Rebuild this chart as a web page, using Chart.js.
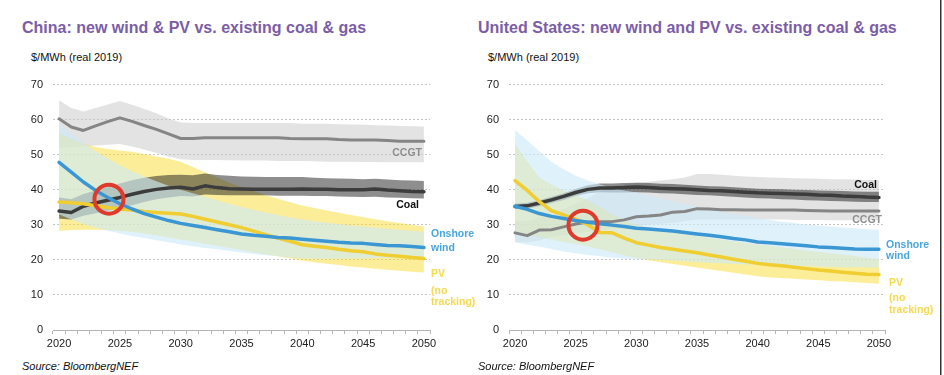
<!DOCTYPE html>
<html>
<head>
<meta charset="utf-8">
<script src="https://cdn.jsdelivr.net/npm/chart.js@4.4.0/dist/chart.umd.min.js"></script>
<style>
  html, body { margin: 0; padding: 0; background: #fff; }
  body { width: 944px; height: 375px; position: relative; overflow: hidden; font-family: "Liberation Sans", Arial, sans-serif; }
  .title { position: absolute; top: 19px; font-weight: bold; font-size: 16px; color: #7b5da8; white-space: nowrap; }
  .unit { position: absolute; top: 51px; font-size: 11px; color: #111; white-space: nowrap; }
  .source { position: absolute; top: 360px; font-size: 11px; font-style: italic; color: #111; white-space: nowrap; }
  canvas { position: absolute; top: 66px; }
  #edge { position: absolute; left: 940px; top: 0; width: 1px; height: 375px; background: #333; border-right: 1px solid #999; }
</style>
</head>
<body>
<div class="title" style="left:22px">China: new wind &amp; PV vs. existing coal &amp; gas</div>
<div class="title" style="left:478px">United States: new wind and PV vs. existing coal &amp; gas</div>
<div class="unit" style="left:31px">$/MWh (real 2019)</div>
<div class="unit" style="left:488px">$/MWh (real 2019)</div>
<canvas id="chartChina" width="480" height="290" style="left:0px"></canvas>
<canvas id="chartUS" width="474" height="290" style="left:470px"></canvas>
<div class="source" style="left:22px">Source: BloombergNEF</div>
<div class="source" style="left:478px">Source: BloombergNEF</div>
<div id="edge"></div>
<script>
const years = [2020,2021,2022,2023,2024,2025,2026,2027,2028,2029,2030,2031,2032,2033,2034,2035,
               2036,2037,2038,2039,2040,2041,2042,2043,2044,2045,2046,2047,2048,2049,2050];
const yTicks = [0, 10, 20, 30, 40, 50, 60, 70];

// China
const cnCcgt   = [60.2,57.9,56.9,58.2,59.4,60.5,59.5,58.3,57.2,55.9,54.6,54.6,54.8,54.8,54.8,54.8,54.8,54.8,54.8,54.6,54.5,54.5,54.5,54.3,54.2,54.2,54.2,54.0,53.8,53.8,53.8];
const cnCcgtHi = [65.5,63.3,62.3,63.3,64.3,65.3,64.2,63,61.8,60.3,59.2,59,59,59,59,59,59,59,59,59,58.8,58.8,58.8,58.7,58.6,58.5,58.4,58.3,58.2,58.1,58];
const cnCcgtLo = [52,52.2,52.4,52.6,52.8,53,52.3,51.5,50.5,49.5,48.7,48.5,48.5,48.5,48.4,48.3,48.3,48.3,48.2,48.2,48.2,48.1,48,48,48,47.9,47.9,47.8,47.8,47.8,47.8];
const cnCoal   = [33.9,33.5,35.3,36.2,37,37.8,38.7,39.5,40.1,40.5,40.7,40.2,41.1,40.6,40.3,40.2,40.1,40.1,40.1,40.1,40.2,40.1,40.1,40,40,40,40.2,39.9,39.7,39.5,39.4];
const cnCoalHi = [37.8,37.3,38.8,39.8,40.8,41.8,42.7,43.4,43.9,44.2,44.3,44.1,44.6,44.2,44,43.8,43.7,43.6,43.6,43.6,43.6,43.4,43.3,43.2,43.1,43,43.1,42.9,42.7,42.6,42.5];
const cnCoalLo = [31.7,31.5,32.6,33.3,34,34.6,35.6,36.5,37.3,37.8,38.2,38.1,38.6,38.5,38.4,38.4,38.4,38.4,38.3,38.3,38.3,38.2,38.2,38.1,38,37.9,38,37.8,37.7,37.6,37.5];
const cnWind   = [47.8,45,42.2,39.8,37.8,36,34.5,33.2,32.2,31.2,30.4,29.8,29.2,28.6,28,27.4,27,26.7,26.4,26.2,25.9,25.6,25.3,25,24.8,24.7,24.4,24.1,24,23.8,23.5];
const cnWindHi = [59,56,53.5,51,49,47,45.3,43.8,42.4,41.1,40,39,38,37,36,35.1,34.3,33.5,32.8,32.1,31.5,31,30.6,30.2,29.8,29.5,29.2,28.9,28.6,28.3,28];
const cnWindLo = [33,31.5,30.2,29.2,28.3,27.5,26.8,26.2,25.6,25,24.4,23.9,23.4,23,22.5,22.1,21.7,21.3,21,20.7,20.4,20.3,20.3,20.3,20.4,20.4,20.5,20.5,20.6,20.7,20.8];
const cnPv     = [36.5,36.3,36,35.4,34.9,34.5,34.2,33.8,33.5,33.3,33.1,32.4,31.6,30.8,30,29.2,28.2,27.2,26.2,25.3,24.3,23.9,23.5,23,22.6,22.3,21.7,21.3,21,20.7,20.4];
const cnPvHi   = [56,54.5,53.2,52.2,51.6,51.2,50.8,50.2,49.5,48.8,48,46.5,45,43.5,42,40.8,39.6,38.5,37.4,36.4,35.5,34.8,34.1,33.4,32.8,32.2,31.6,31,30.5,30,29.5];
const cnPvLo   = [28.2,28.5,28.6,28.6,28.5,28.3,28,27.5,27,26.4,25.8,25.2,24.6,24,23.4,22.8,22.2,21.6,21,20.4,19.8,19.3,18.9,18.5,18.1,17.8,17.5,17.2,16.9,16.6,16.4];
const cnCircle = [{ x: 2024.1, y: 37.3 }];

// United States
const usCoal   = [35.2,35.4,36.2,37.1,38.1,39.2,40.1,40.5,40.5,40.6,40.8,40.6,40.4,40.3,40.2,40,39.8,39.7,39.5,39.3,39.1,39,38.9,38.8,38.7,38.5,38.4,38.2,38.1,37.9,37.8];
const usCoalHi = [36,36.3,37,38,39,40.2,41.3,41.8,41.8,41.9,42,41.9,41.7,41.6,41.4,41.2,41,40.9,40.7,40.5,40.3,40.2,40.1,40,39.9,39.8,39.7,39.6,39.5,39.4,39.4];
const usCoalLo = [34.5,34.6,35.3,36.2,37.1,38.2,39,39.3,39.2,39.2,39.3,39.2,39,38.9,38.7,38.5,38.4,38.2,38,37.8,37.6,37.5,37.3,37.2,37,36.9,36.8,36.7,36.6,36.5,36.5];
const usCcgt   = [27.7,26.9,28.5,28.6,29.4,30.2,30.8,30.9,30.9,31.4,32.3,32.5,32.8,33.6,33.8,34.6,34.5,34.3,34.3,34.2,34.2,34.2,34.2,34.2,34.1,34,33.9,33.9,33.9,33.9,33.9];
const usCcgtHi = [31,31,32,33,34.5,36,37.5,39.5,41,41.5,42,42.3,42.6,43,43.5,44.5,44.5,44.3,44,43.8,43.6,43.5,43.4,43.3,43.2,43.1,43,43,42.9,42.8,42.8];
const usCcgtLo = [25,25,25.5,26.5,27,27.5,28,28.5,28.8,29,29.5,30,30.3,30.5,31,31.5,31.5,31.5,31.5,31.5,31.5,31.5,31.5,31.4,31.4,31.4,31.3,31.3,31.3,31.3,31.3];
const usWind   = [35.3,34.4,33.2,32.4,31.8,31.2,30.7,30.3,29.9,29.5,29,28.8,28.5,28.2,27.8,27.4,27,26.6,26.1,25.7,25.1,24.9,24.6,24.3,24,23.7,23.5,23.3,23.1,23,23];
const usWindHi = [57,54,51,48,45.8,44,42.6,41.5,40.5,39.8,39.2,38.4,37.6,36.8,36,35.2,34.5,33.8,33.1,32.5,31.9,31.4,30.9,30.5,30.1,29.8,29.5,29.2,29,28.7,28.5];
const usWindLo = [25,24.3,23.8,23.1,22.4,21.9,21.4,21,20.6,20.3,20.2,20.1,20,19.8,19.6,19.4,19.2,19,18.8,18.7,18.6,18.5,18.4,18.3,18.2,18.1,18,17.9,17.9,17.8,17.8];
const usPv     = [42.6,39.8,36.6,34,32.8,31.6,30,27.8,27.7,26.2,24.9,24.2,23.5,23,22.5,22,21.4,20.8,20.2,19.6,19,18.6,18.3,17.9,17.5,17.1,16.8,16.5,16.2,15.9,15.8];
const usPvHi   = [53.2,48,43.5,41.5,39.8,38.5,37,35,33,31.3,30,29.2,28.5,27.9,27.3,26.8,26.3,25.8,25.3,24.8,24.4,24,23.6,23.2,22.7,22.3,21.9,21.5,21.1,20.6,20.2];
const usPvLo   = [28,27.3,26.5,25.8,25.1,24.5,23.8,23,22.2,21.3,20.5,19.9,19.3,18.8,18.3,17.8,17.3,16.8,16.3,15.8,15.3,15,14.8,14.6,14.4,14.2,14,13.8,13.6,13.4,13.2];
const usCircle = [{ x: 2025.6, y: 29.9 }];

const FONT = '"Liberation Sans", Arial, sans-serif';
Chart.defaults.font.family = FONT;

const BLUE = "#3a97d4", YELLOW = "#f0cd30", COAL = "#3c3c3c", GRAY = "#858585";
const LABEL_BLUE = "#4aa6de", LABEL_YELLOW = "#f5d94e", LABEL_GRAY = "#8e8e8e";
const CLEAR = "rgba(0,0,0,0)";

// text next to the line ends
const endLabels = {
    id: "endLabels",
    afterDatasetsDraw(chart, args, opts) {
        const { ctx, chartArea, scales } = chart;
        ctx.save();
        ctx.font = "bold 10.5px " + FONT;
        ctx.textBaseline = "middle";
        (opts.items || []).forEach(it => {
            ctx.fillStyle = it.color;
            ctx.textAlign = it.align;
            ctx.fillText(it.text, chartArea.right + it.dx, scales.y.getPixelForValue(it.v));
        });
        ctx.restore();
    }
};

function band(hi, lo, color, order) {
    return [
        { data: hi, fill: "+1", backgroundColor: color, borderColor: CLEAR, borderWidth: 0, pointRadius: 0, order },
        { data: lo, fill: false, borderColor: CLEAR, borderWidth: 0, pointRadius: 0, order }
    ];
}

function line(data, color, width, order) {
    return { data, borderColor: color, borderWidth: width, pointRadius: 0, fill: false, tension: 0,
             borderJoinStyle: "round", borderCapStyle: "round", order };
}

function drawPanel(canvasId, s, yWidth, padRight, labels) {
    return new Chart(document.getElementById(canvasId), {
        type: "line",
        data: {
            labels: years,
            datasets: [
                ...band(s.ccgtHi, s.ccgtLo, "rgba(200,200,200,0.5)", 20),
                ...band(s.pvHi, s.pvLo, "rgba(250,222,52,0.5)", 18),
                ...band(s.coalHi, s.coalLo, "rgba(30,30,30,0.5)", 17),
                ...band(s.windHi, s.windLo, "rgba(205,233,247,0.64)", 16),
                line(s.ccgt, GRAY, 3, 5),
                line(s.coal, COAL, 3.5, 4),
                line(s.pv, YELLOW, 3.5, 3),
                line(s.wind, BLUE, 3.5, 2),
                {
                    data: s.circle, xAxisID: "xc", showLine: false, order: 0,
                    pointRadius: 14.5, pointBorderWidth: 4, pointBorderColor: "#df3b2c",
                    pointBackgroundColor: CLEAR
                }
            ]
        },
        options: {
            responsive: false,
            animation: false,
            devicePixelRatio: 1,
            layout: { padding: { top: 14, left: 0, right: padRight, bottom: 0 } },
            plugins: {
                legend: { display: false },
                tooltip: { enabled: false },
                endLabels: { items: labels }
            },
            scales: {
                x: {
                    type: "category",
                    offset: true,
                    grid: { offset: true, drawOnChartArea: false, drawTicks: true, tickLength: 4, color: "#b5b5b5" },
                    border: { display: true, color: "#b5b5b5", width: 1 },
                    ticks: {
                        autoSkip: false, maxRotation: 0, minRotation: 0, padding: 3,
                        color: "#222", font: { size: 11 },
                        callback: (v, i) => (years[i] % 5 === 0 ? String(years[i]) : "")
                    },
                    afterFit: scale => { scale.height = 26; }
                },
                xc: { type: "linear", display: false, min: 2019.5, max: 2050.5 },
                y: {
                    min: yTicks[0],
                    max: yTicks[yTicks.length - 1],
                    afterBuildTicks: scale => { scale.ticks = yTicks.map(v => ({ value: v })); },
                    grid: {
                        drawTicks: false,
                        lineWidth: 1,
                        color: c => (c.tick && c.tick.value === 0 ? CLEAR : "#c4c4c4")
                    },
                    border: { display: false, dash: [2, 2] },
                    ticks: { padding: 10, color: "#222", font: { size: 11 } },
                    afterFit: scale => { scale.width = yWidth; }
                }
            }
        },
        plugins: [endLabels]
    });
}

drawPanel("chartChina", {
    ccgt: cnCcgt, ccgtHi: cnCcgtHi, ccgtLo: cnCcgtLo,
    coal: cnCoal, coalHi: cnCoalHi, coalLo: cnCoalLo,
    wind: cnWind, windHi: cnWindHi, windLo: cnWindLo,
    pv: cnPv, pvHi: cnPvHi, pvLo: cnPvLo,
    circle: cnCircle
}, 53, 50, [
    { text: "CCGT", color: LABEL_GRAY, align: "right", dx: -8, v: 50.4 },
    { text: "Coal", color: "#111", align: "right", dx: -11, v: 35.6 },
    { text: "Onshore", color: LABEL_BLUE, align: "left", dx: 1, v: 27.2 },
    { text: "wind", color: LABEL_BLUE, align: "left", dx: 1, v: 23.4 },
    { text: "PV", color: LABEL_YELLOW, align: "left", dx: 1, v: 16.0 },
    { text: "(no", color: LABEL_YELLOW, align: "left", dx: 1, v: 11.2 },
    { text: "tracking)", color: LABEL_YELLOW, align: "left", dx: 1, v: 8.0 }
]);

drawPanel("chartUS", {
    ccgt: usCcgt, ccgtHi: usCcgtHi, ccgtLo: usCcgtLo,
    coal: usCoal, coalHi: usCoalHi, coalLo: usCoalLo,
    wind: usWind, windHi: usWindHi, windLo: usWindLo,
    pv: usPv, pvHi: usPvHi, pvLo: usPvLo,
    circle: usCircle
}, 39, 59, [
    { text: "Coal", color: "#111", align: "right", dx: -8, v: 41.2 },
    { text: "CCGT", color: LABEL_GRAY, align: "right", dx: -3, v: 31.4 },
    { text: "Onshore", color: LABEL_BLUE, align: "left", dx: 1, v: 24.3 },
    { text: "wind", color: LABEL_BLUE, align: "left", dx: 1, v: 21.0 },
    { text: "PV", color: LABEL_YELLOW, align: "left", dx: 4, v: 13.5 },
    { text: "(no", color: LABEL_YELLOW, align: "left", dx: 4, v: 9.0 },
    { text: "tracking)", color: LABEL_YELLOW, align: "left", dx: 4, v: 5.6 }
]);
</script>
</body>
</html>
